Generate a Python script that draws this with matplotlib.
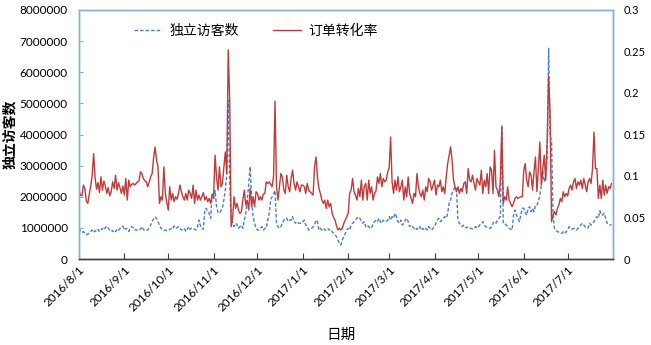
import matplotlib
matplotlib.use("Agg")
import matplotlib.pyplot as plt
import numpy as np
import pandas as pd

plt.rcParams['font.family'] = ['Lato', 'Noto Sans CJK SC', 'DejaVu Sans']

# daily unique visitors, in thousands, one list per month (2016/8 .. 2017/7)
uv_aug = [985, 880, 850, 880, 830, 780, 800, 830, 880, 930, 850, 910, 880, 950, 880, 930,
          985, 930, 1010, 1060, 985, 930, 950, 880, 930, 880, 950, 910, 985, 1010, 1060]
uv_sep = [930, 985, 960, 880, 985, 1040, 1010, 930, 950, 910, 930, 960, 1040, 950, 910,
          930, 930, 1000, 1090, 1200, 1290, 1360, 1300, 1200, 1090, 985, 950, 910, 930, 910]
uv_oct = [910, 950, 985, 960, 1060, 985, 1000, 1040, 985, 930, 960, 985, 880, 960, 1040, 950,
          1000, 985, 960, 930, 1040, 1250, 1060, 985, 953, 1570, 1630, 1520, 1470, 1310, 2110]
uv_nov = [1900, 2200, 1700, 1500, 1470, 1550, 1630, 1900, 2200, 2750, 5100, 2500, 1250, 1200, 1040,
          1150, 1100, 985, 1040, 1090, 985, 1250, 1470, 1900, 2400, 2970, 1900, 1360, 1150, 985]
uv_dec = [930, 930, 985, 1040, 930, 985, 985, 1250, 1470, 1900, 2000, 2100, 2200, 1150, 1040, 985,
          1040, 1150, 1250, 1310, 1310, 1200, 1250, 1250, 1360, 1200, 1150, 1200, 1150, 1150, 1150]
uv_jan = [1200, 1250, 1090, 1040, 930, 953, 985, 1040, 1090, 1250, 1200, 930, 985, 930, 985, 930,
          930, 985, 930, 953, 878, 825, 771, 718, 610, 500, 450, 610, 718, 825, 930]
uv_feb = [985, 930, 1090, 1150, 1200, 1250, 1310, 1360, 1310, 1200, 1150, 1200, 1040, 1090,
          1040, 1000, 985, 1150, 1200, 1250, 1200, 1310, 1200, 1150, 1250, 1200, 1200, 1250]
uv_mar = [1360, 1250, 1360, 1310, 1470, 1360, 1200, 1150, 1250, 1090, 1150, 1250, 1310, 1200, 1040,
          1090, 1040, 985, 930, 985, 953, 1040, 930, 985, 930, 985, 930, 1040, 985, 930, 985]
uv_apr = [1040, 1150, 1250, 1310, 1200, 1250, 1310, 1360, 1310, 1470, 1790, 1900, 2110, 2220, 2320,
          2270, 1250, 1150, 1090, 1040, 1090, 1040, 1000, 1040, 1000, 985, 960, 985, 1040, 985]
uv_may = [1040, 1090, 1150, 1200, 1090, 1040, 1000, 985, 985, 1040, 1150, 1200, 1150, 1250, 1310, 1360,
          4300, 1150, 1150, 1090, 1040, 985, 960, 930, 1410, 1570, 1410, 1310, 1200, 1410, 1630]
uv_jun = [1630, 1500, 1410, 1630, 1680, 1520, 1630, 1520, 1730, 1730, 1840, 2050, 2370, 2800, 2480,
          2700, 3230, 6770, 3980, 3770, 1410, 985, 930, 880, 860, 825, 825, 880, 825, 880]
uv_jul = [930, 1040, 1000, 960, 985, 960, 930, 985, 1040, 1090, 1150, 1090, 1040, 985, 1000, 1150,
          1090, 1150, 1200, 1310, 1360, 1310, 1550, 1410, 1410, 1470, 1310, 1150, 1090, 1090, 1100]

# daily order conversion rate
cr_aug = [0.083, 0.077, 0.076, 0.089, 0.085, 0.070, 0.067, 0.078, 0.088, 0.101, 0.127, 0.098, 0.084,
          0.092, 0.080, 0.099, 0.083, 0.094, 0.088, 0.079, 0.086, 0.076, 0.081, 0.093, 0.085, 0.101,
          0.083, 0.092, 0.086, 0.079, 0.088]
cr_sep = [0.077, 0.097, 0.071, 0.095, 0.087, 0.090, 0.091, 0.089, 0.091, 0.093, 0.094, 0.105, 0.103,
          0.097, 0.094, 0.093, 0.087, 0.093, 0.099, 0.103, 0.122, 0.135, 0.119, 0.111, 0.067, 0.075,
          0.071, 0.111, 0.079, 0.068]
cr_oct = [0.059, 0.087, 0.071, 0.079, 0.069, 0.075, 0.072, 0.079, 0.089, 0.081, 0.075, 0.071, 0.079,
          0.071, 0.083, 0.079, 0.073, 0.089, 0.067, 0.083, 0.071, 0.077, 0.071, 0.075, 0.080, 0.071,
          0.075, 0.069, 0.073, 0.067, 0.077]
cr_nov = [0.077, 0.125, 0.099, 0.083, 0.111, 0.087, 0.091, 0.110, 0.129, 0.103, 0.252, 0.191, 0.039,
          0.050, 0.075, 0.061, 0.067, 0.059, 0.055, 0.057, 0.071, 0.083, 0.065, 0.071, 0.059, 0.085,
          0.063, 0.075, 0.063, 0.081]
cr_dec = [0.079, 0.071, 0.075, 0.071, 0.078, 0.079, 0.093, 0.091, 0.093, 0.090, 0.087, 0.100, 0.190,
          0.087, 0.071, 0.087, 0.103, 0.099, 0.083, 0.079, 0.101, 0.087, 0.081, 0.097, 0.107, 0.091,
          0.083, 0.093, 0.087, 0.081, 0.089]
cr_jan = [0.089, 0.087, 0.079, 0.091, 0.083, 0.081, 0.079, 0.077, 0.111, 0.123, 0.099, 0.085, 0.079,
          0.071, 0.067, 0.071, 0.061, 0.071, 0.063, 0.067, 0.055, 0.050, 0.047, 0.040, 0.035, 0.037,
          0.035, 0.037, 0.043, 0.047, 0.051]
cr_feb = [0.055, 0.079, 0.083, 0.097, 0.081, 0.077, 0.071, 0.085, 0.075, 0.095, 0.071, 0.087, 0.091,
          0.071, 0.095, 0.079, 0.087, 0.071, 0.079, 0.082, 0.099, 0.091, 0.103, 0.087, 0.097, 0.093,
          0.095, 0.105]
cr_mar = [0.110, 0.147, 0.093, 0.079, 0.095, 0.083, 0.099, 0.081, 0.087, 0.095, 0.071, 0.087, 0.075,
          0.099, 0.079, 0.073, 0.067, 0.079, 0.075, 0.103, 0.087, 0.079, 0.075, 0.083, 0.071, 0.087,
          0.081, 0.097, 0.093, 0.083, 0.089]
cr_apr = [0.095, 0.077, 0.089, 0.087, 0.095, 0.081, 0.087, 0.079, 0.099, 0.115, 0.125, 0.135, 0.119,
          0.095, 0.087, 0.081, 0.087, 0.079, 0.085, 0.081, 0.091, 0.093, 0.079, 0.109, 0.095, 0.093,
          0.101, 0.091, 0.083, 0.097]
cr_may = [0.093, 0.089, 0.107, 0.079, 0.095, 0.087, 0.103, 0.079, 0.111, 0.107, 0.079, 0.131, 0.087,
          0.083, 0.075, 0.095, 0.158, 0.067, 0.075, 0.071, 0.087, 0.071, 0.067, 0.063, 0.067, 0.073,
          0.075, 0.073, 0.074, 0.075, 0.075]
cr_jun = [0.107, 0.115, 0.095, 0.087, 0.105, 0.101, 0.083, 0.105, 0.123, 0.081, 0.109, 0.141, 0.089,
          0.109, 0.125, 0.095, 0.141, 0.220, 0.175, 0.045, 0.053, 0.057, 0.053, 0.061, 0.065, 0.073,
          0.069, 0.081, 0.075, 0.079]
cr_jul = [0.076, 0.085, 0.089, 0.083, 0.093, 0.097, 0.085, 0.093, 0.089, 0.095, 0.085, 0.097, 0.089,
          0.081, 0.093, 0.097, 0.091, 0.109, 0.153, 0.109, 0.109, 0.073, 0.089, 0.073, 0.095, 0.077,
          0.089, 0.079, 0.087, 0.085, 0.091]

month_labels = ['2016/8/1', '2016/9/1', '2016/10/1', '2016/11/1', '2016/12/1', '2017/1/1',
                '2017/2/1', '2017/3/1', '2017/4/1', '2017/5/1', '2017/6/1', '2017/7/1']

visitors = np.array(uv_aug + uv_sep + uv_oct + uv_nov + uv_dec + uv_jan +
                    uv_feb + uv_mar + uv_apr + uv_may + uv_jun + uv_jul) * 1000
conv = np.array(cr_aug + cr_sep + cr_oct + cr_nov + cr_dec + cr_jan +
                cr_feb + cr_mar + cr_apr + cr_may + cr_jun + cr_jul)
dates = pd.date_range('2016-08-01', periods=len(visitors), freq='D')

blue = '#4A7EC8'
red = '#BE3B3B'
frame = '#86AEE0'

fig = plt.figure(figsize=(6.51, 3.45), dpi=100)
ax = fig.add_axes([79 / 651, 1 - 259 / 345, 534 / 651, 249 / 345])
l1, = ax.plot(dates, visitors, color=blue, lw=1.0, ls=(0, (2.5, 1.5)), label='独立访客数')
ax2 = ax.twinx()
l2, = ax2.plot(dates, conv, color=red, lw=1.0, label='订单转化率')

ax.set_ylim(0, 8000000)
ax.set_yticks(np.arange(0, 8000001, 1000000))
ax.set_yticklabels([str(int(v)) for v in np.arange(0, 8000001, 1000000)])
ax2.set_ylim(0, 0.3)
ax2.set_yticks([0, 0.05, 0.1, 0.15, 0.2, 0.25, 0.3])
ax2.set_yticklabels(['0', '0.05', '0.1', '0.15', '0.2', '0.25', '0.3'])

ax.set_xlim(pd.Timestamp('2016-08-01'), pd.Timestamp('2017-08-01'))
ax.set_xticks(pd.date_range('2016-08-01', '2017-08-01', freq='MS'))
ax.set_xticklabels(month_labels + [''], rotation=45, ha='right', rotation_mode='anchor')

for a in (ax, ax2):
    for s in ('left', 'top', 'right'):
        a.spines[s].set_color(frame)
        a.spines[s].set_linewidth(1.0)
    a.spines['bottom'].set_color('#404040')
    a.spines['bottom'].set_linewidth(1.0)

ax.tick_params(axis='y', direction='in', length=3, color=frame, labelsize=8.5, pad=8)
ax.tick_params(axis='x', direction='in', length=4, color='#404040', labelsize=8.5, pad=4)
ax2.tick_params(axis='y', length=0, labelsize=8, pad=8)

ax.set_ylabel('独立访客数', fontsize=10, fontweight='bold')
ax.yaxis.set_label_coords(-0.118, 0.5)
ax.set_xlabel('日期', fontsize=10.5)
ax.xaxis.set_label_coords(0.49, -0.275)

fig.legend(handles=[l1, l2], loc='center', bbox_to_anchor=(0.393, 0.913), ncol=2,
           frameon=False, fontsize=10, handlelength=2.0, handletextpad=0.5, columnspacing=2.5)

fig.savefig('out.png', dpi=100)
